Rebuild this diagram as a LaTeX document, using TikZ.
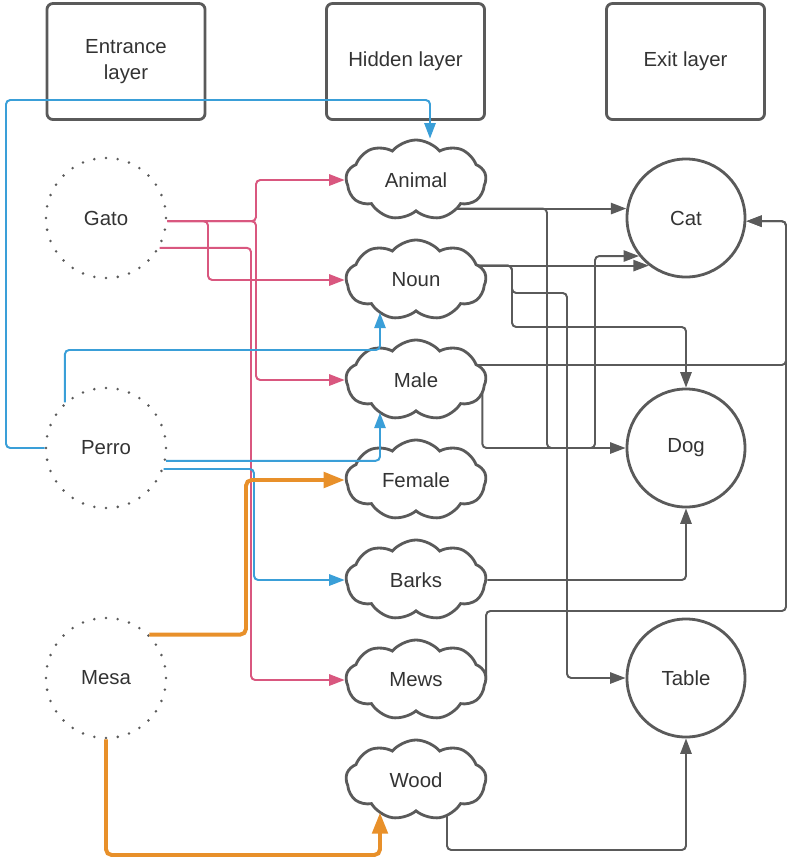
\documentclass[tikz,border=0pt]{standalone}
\usepackage{fontspec}
\setmainfont{Liberation Sans}
\usepackage{xcolor}
\usetikzlibrary{arrows.meta,shapes.symbols,backgrounds,positioning}
\definecolor{linegray}{HTML}{5A5A5A}
\definecolor{textgray}{HTML}{333333}
\definecolor{skyblue}{HTML}{3A9FD8}
\definecolor{rose}{HTML}{D9577F}
\definecolor{amber}{HTML}{E8902A}
\tikzset{%
  >={Triangle[width=8pt,length=11pt]},
  % Specifications for style of nodes:
       layerbox/.style = {rectangle, rounded corners=0.15cm, draw=linegray,
                          line width=2pt, minimum width=3.95cm,
                          minimum height=2.9cm, align=center},
      inputword/.style = {circle, draw=linegray, line width=2pt,
                          line cap=round, dash pattern=on 0pt off 8.38pt,
                          minimum size=3cm},
        feature/.style = {cloud, cloud puffs=9, cloud puff arc=100,
                          draw=linegray, line width=2pt, fill=white,
                          aspect=1.75, minimum width=3.5cm,
                          minimum height=2cm, inner sep=0pt},
     outputword/.style = {circle, draw=linegray, line width=2pt, fill=white,
                          minimum size=2.95cm},
  % Specifications for style of connectors:
       grayline/.style = {->, draw=linegray, line width=1.4pt,
                          rounded corners=3pt},
       blueline/.style = {->, draw=skyblue, line width=1.4pt,
                          rounded corners=3pt},
       pinkline/.style = {->, draw=rose, line width=1.4pt,
                          rounded corners=3pt},
     orangeline/.style = {-{Triangle[width=11pt,length=15pt]}, draw=amber,
                          line width=2.8pt, rounded corners=4pt},
}

\begin{document}
\begin{tikzpicture}[x=0.025cm, y=-0.025cm,
    every node/.style={text=textgray, font=\fontsize{14.5}{18.5}\selectfont}]
  \useasboundingbox (0,0) rectangle (790,858);
  % Specification of nodes (position, etc.)
  \node (entrance) [layerbox] at (126,61.5) {Entrance\\layer};
  \node (hidden)   [layerbox] at (405.5,61.5) {Hidden layer};
  \node (exit)     [layerbox] at (685.5,61.5) {Exit layer};

  \node (gato)  [inputword] at (106,218) {Gato};
  \node (perro) [inputword] at (106,448) {Perro};
  \node (mesa)  [inputword] at (106,678) {Mesa};

  \node (animal) [feature] at (416,180) {Animal};
  \node (noun)   [feature] at (416,280) {Noun};
  \node (male)   [feature] at (416,380) {Male};
  \node (female) [feature] at (416,480) {Female};
  \node (barks)  [feature] at (416,580) {Barks};
  \node (mews)   [feature] at (416,680) {Mews};
  \node (wood)   [feature] at (416,780) {Wood};

  \node (cat)   [outputword] at (686,218) {Cat};
  \node (dog)   [outputword] at (686,448) {Dog};
  \node (table) [outputword] at (686,678) {Table};

  % Bends of the connectors
  \coordinate (gatoBus)    at (256,0);
  \coordinate (gatoNoun)   at (208,0);
  \coordinate (gatoMews)   at (251,0);
  \coordinate (perroBarks) at (254,0);
  \coordinate (mesaFemale) at (246,0);
  \coordinate (animalDog)  at (547,0);
  \coordinate (nounTable)  at (567,0);
  \coordinate (maleCat)    at (595,0);
  \coordinate (rightRail)  at (786,0);
  \coordinate (perroLoop)  at (6,100);
  \coordinate (perroNoun)  at (380,350);
  \coordinate (nounDog)    at (512,327);
  \coordinate (nounSplit)  at (512,293);
  \coordinate (mewsBend)   at (786,611);
  \coordinate (mesaBase)   at (380,855);
  \coordinate (woodBase)   at (686,850);

  % Specification of lines between nodes specified above
  % Gato
  \draw[pinkline] (gato.-3) -| (gatoBus |- animal.west) -- (animal.west);
  \draw[pinkline] (gato.-3) -| (gatoNoun |- noun.west) -- (noun.west);
  \draw[pinkline] (gato.-3) -| (gatoBus |- male.west) -- (male.west);
  \draw[pinkline] (gato.-29) -| (gatoMews |- mews.west) -- (mews.west);
  % Perro
  \draw[blueline] (perro.west) -| (perroLoop) -| ([xshift=0.35cm]animal.north);
  \draw[blueline] (perro.132) |- (perroNoun) -- ([xshift=-0.9cm]noun.south);
  \draw[blueline] (perro.-12) -| ([xshift=-0.9cm]male.south);
  \draw[blueline] (perro.-20) -| (perroBarks |- barks.west) -- (barks.west);
  % Mesa
  \draw[orangeline] (mesa.45) -| (mesaFemale |- female.west) -- (female.west);
  \draw[orangeline] (mesa.south) |- (mesaBase) -- ([xshift=-0.9cm]wood.south);
  % hidden layer to exit layer
  \begin{scope}[on background layer]
    \draw[grayline] (animal |- cat.171) -- (cat.171);
    \draw[grayline] (animal |- cat.171) -| (animalDog |- dog.west) -- (dog.west);
    \draw[grayline] (noun |- cat.232) -- (cat.232);
    \draw[grayline] (noun |- cat.232) -| (nounDog) -| (dog.north);
    \draw[grayline] (noun |- cat.232) -| (nounSplit) -| (nounTable |- table.west) -- (table.west);
    \draw[grayline] ([yshift=0.375cm]male.center) -| (rightRail |- cat.-3) -- (cat.-3);
    \draw[grayline] ([xshift=-0.125cm]male.east) |- (maleCat |- dog.west) |- (cat.219);
    \draw[grayline] (barks) -| (dog.south);
    \draw[grayline] ([xshift=-0.03cm]mews.east) |- (mewsBend) |- (cat.-3);
    \draw[grayline] ([xshift=0.775cm]wood.center) |- (woodBase) -- (table.south);
  \end{scope}
\end{tikzpicture}
\end{document}
